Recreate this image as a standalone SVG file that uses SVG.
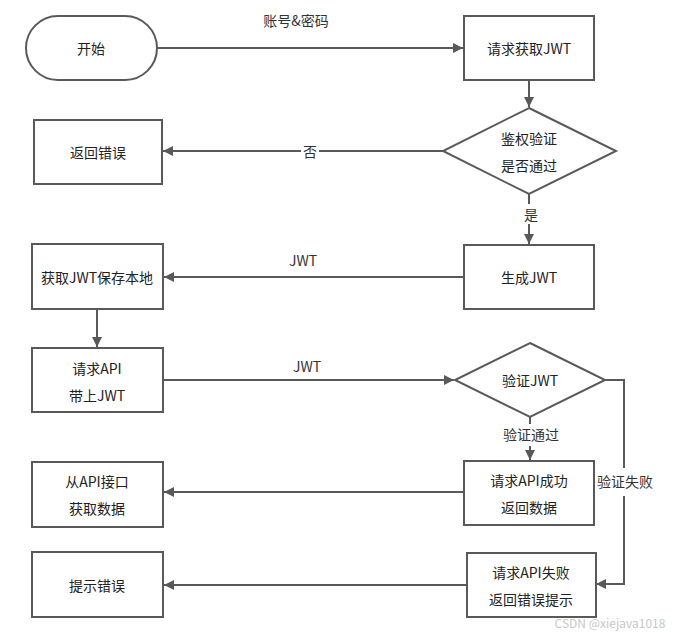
<svg xmlns="http://www.w3.org/2000/svg" width="678" height="636" viewBox="0 0 678 636">
<style>
.s{fill:#fff;stroke:#595959;stroke-width:2}
.c{fill:none;stroke:#595959;stroke-width:2}
text{font-family:"Noto Sans CJK SC","Liberation Sans",sans-serif;font-size:14px;fill:#222;text-anchor:middle;dominant-baseline:central}
.lb{fill:#333}
.wm{fill:#c8c8c8;font-size:12px}
</style>
<defs>
<marker id="a" viewBox="0 0 10 10" refX="10" refY="5" markerWidth="5" markerHeight="5" orient="auto" markerUnits="strokeWidth">
<path d="M0,0L10,5L0,10z" fill="#595959"/>
</marker>
</defs>
<rect width="678" height="636" fill="#fff"/>
<g id="connectors">
<line class="c" x1="157" y1="48" x2="463" y2="48" marker-end="url(#a)"/>
<line class="c" x1="529" y1="80" x2="529" y2="107" marker-end="url(#a)"/>
<line class="c" x1="443" y1="151" x2="319" y2="151"/>
<line class="c" x1="301" y1="151" x2="163" y2="151" marker-end="url(#a)"/>
<line class="c" x1="529" y1="194" x2="529" y2="204"/>
<line class="c" x1="529" y1="224" x2="529" y2="244" marker-end="url(#a)"/>
<line class="c" x1="464" y1="277" x2="164" y2="277" marker-end="url(#a)"/>
<line class="c" x1="97" y1="309" x2="97" y2="347" marker-end="url(#a)"/>
<line class="c" x1="163" y1="380" x2="454" y2="380" marker-end="url(#a)"/>
<line class="c" x1="530" y1="417" x2="530" y2="424"/>
<line class="c" x1="530" y1="446" x2="530" y2="460" marker-end="url(#a)"/>
<line class="c" x1="464" y1="492" x2="164" y2="492" marker-end="url(#a)"/>
<polyline class="c" points="605,380 624,380 624,468"/>
<polyline class="c" points="624,496 624,584 596,584" marker-end="url(#a)"/>
<line class="c" x1="467" y1="585" x2="164" y2="585" marker-end="url(#a)"/>
<text class="lb" x="296" y="20">账号&amp;密码</text>
<text class="lb" x="310" y="151">否</text>
<text class="lb" x="531" y="214">是</text>
<text class="lb" x="303" y="260">JWT</text>
<text class="lb" x="307" y="366">JWT</text>
<text class="lb" x="531" y="434">验证通过</text>
<text class="lb" x="625" y="481">验证失败</text>
</g>
<g id="start"><rect class="s" x="26" y="16" width="131" height="64" rx="32"/><text x="91" y="48">开始</text></g>
<g id="reqjwt"><rect class="s" x="464" y="16" width="130" height="64"/><text x="529" y="48">请求获取JWT</text></g>
<g id="auth"><polygon class="s" points="529,108 616,151 529,194 443,151"/><text x="529" y="138">鉴权验证</text><text x="529" y="165">是否通过</text></g>
<g id="reterr"><rect class="s" x="34" y="120" width="128" height="64"/><text x="98" y="152">返回错误</text></g>
<g id="genjwt"><rect class="s" x="464" y="245" width="130" height="64"/><text x="529" y="277">生成JWT</text></g>
<g id="savejwt"><rect class="s" x="32" y="244" width="131" height="65"/><text x="97" y="277">获取JWT保存本地</text></g>
<g id="reqapi"><rect class="s" x="32" y="348" width="131" height="64"/><text x="97" y="368">请求API</text><text x="97" y="395">带上JWT</text></g>
<g id="verify"><polygon class="s" points="530,343 605,380 530,417 455,380"/><text x="530" y="380">验证JWT</text></g>
<g id="apiok"><rect class="s" x="464" y="461" width="130" height="64"/><text x="529" y="480">请求API成功</text><text x="529" y="507">返回数据</text></g>
<g id="getdata"><rect class="s" x="32" y="462" width="131" height="65"/><text x="97" y="481">从API接口</text><text x="97" y="508">获取数据</text></g>
<g id="apifail"><rect class="s" x="467" y="553" width="129" height="64"/><text x="531" y="572">请求API失败</text><text x="531" y="599">返回错误提示</text></g>
<g id="showerr"><rect class="s" x="32" y="552" width="131" height="65"/><text x="97" y="585">提示错误</text></g>
<text class="wm" x="610" y="622">CSDN @xiejava1018</text>
</svg>
